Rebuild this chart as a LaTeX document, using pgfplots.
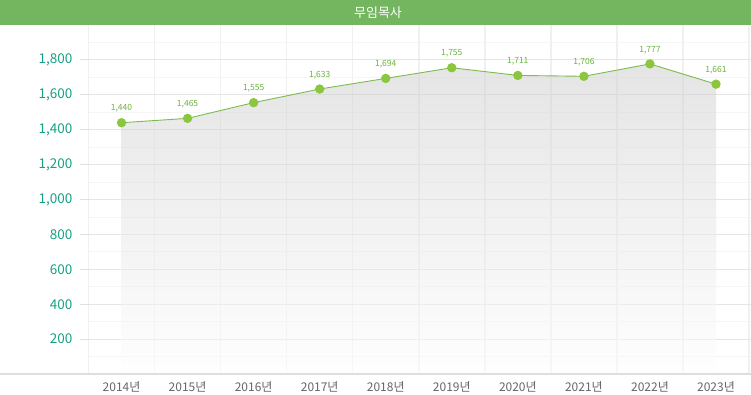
\documentclass[border=0pt]{standalone}
\usepackage{pgfplots}
\pgfplotsset{compat=1.18}
\usepackage{fontspec}
\setmainfont{Noto Sans CJK KR}
\definecolor{titlebar}{HTML}{74B65F}
\definecolor{ytc}{HTML}{16A085}
\definecolor{ln}{HTML}{7DBB4D}
\definecolor{mk}{HTML}{8CC63F}
\definecolor{lbl}{HTML}{6DB33F}
\definecolor{xl}{HTML}{666666}
\pgfplotstableread{
x y
0 1440
1 1465
2 1555
3 1633
4 1694
5 1755
6 1711
7 1706
8 1777
9 1661
}\data
\begin{document}
\begin{tikzpicture}[x=1pt,y=1pt]
\useasboundingbox (0,0) rectangle (751,394);
\fill[white] (0,0) rectangle (751,394);
\fill[titlebar] (0,369) rectangle (751,394);
\node[white, font=\fontsize{13}{15}\selectfont] at (378,381.5) {무임목사};
\begin{axis}[
  at={(88.5pt,20pt)}, anchor=south west,
  scale only axis, width=662.5pt, height=349pt,
  xmin=-0.5, xmax=9.53, ymin=0, ymax=2000,
  axis line style={draw=none},
  xtick={0,...,9},
  xticklabels={2014년,2015년,2016년,2017년,2018년,2019년,2020년,2021년,2022년,2023년},
  ytick={200,400,...,1800},
  minor xtick={-0.5,0.5,...,9.5},
  minor ytick={100,300,...,1900},
  xmajorgrids=false, xminorgrids=true, ymajorgrids=true, yminorgrids=true,
  minor x grid style={draw=black!6, line width=1.5pt},
  major y grid style={draw=black!10, line width=0.8pt},
  minor y grid style={draw=black!4, line width=0.8pt},
  tick align=outside, major tick length=9pt, minor tick length=0pt,
  xtick style={draw=none}, ytick style={draw=black!12, line width=0.8pt},
  yticklabel style={font=\fontsize{13.5}{15}\selectfont, text=ytc, xshift=-3.5pt},
  xticklabel style={font=\fontsize{12}{14}\selectfont, text=xl, yshift=5pt},
  /pgf/number format/.cd, 1000 sep={,}, assume math mode=true, /pgfplots/.cd,
]
\addplot[draw=none, top color=black!20, bottom color=white, fill opacity=0.5] table[x=x,y=y] {\data} \closedcycle;
\addplot[ln, line width=0.9pt, mark=*, mark size=4.2pt, mark options={fill=mk, draw=mk},
  nodes near coords, every node near coord/.append style={font=\fontsize{8.5}{9}\selectfont, text=lbl, yshift=6.5pt}]
  table[x=x,y=y] {\data};
\end{axis}
\draw[black!13, line width=2pt] (0,20.5) -- (751,20.5);
\end{tikzpicture}
\end{document}
